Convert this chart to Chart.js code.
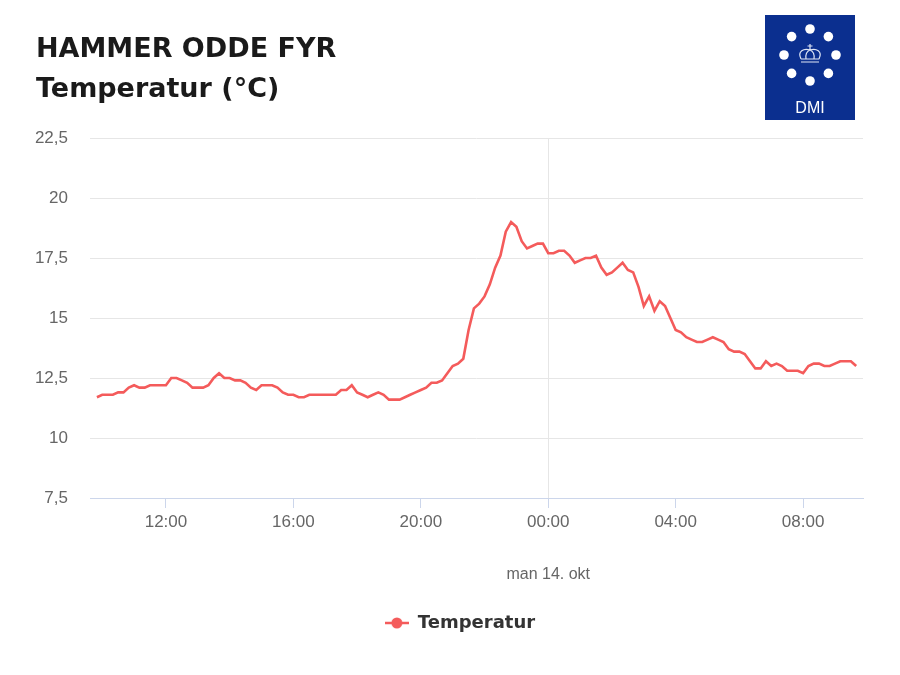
<!DOCTYPE html>
<html lang="da">
<head>
<meta charset="utf-8">
<title>Hammer Odde Fyr - Temperatur</title>
<script src="https://cdn.jsdelivr.net/npm/chart.js@4.4.1/dist/chart.umd.min.js"></script>
<style>
  html, body { margin: 0; padding: 0; background: #ffffff; }
  #wrap { width: 900px; height: 675px; }
</style>
</head>
<body>
<div id="wrap"><canvas id="chart" width="900" height="675"></canvas></div>
<script>
/* ── Data ─────────────────────────────────────────────────── */
const stationName = 'HAMMER ODDE FYR';
const chartTitle = 'Temperatur (°C)';
const seriesName = 'Temperatur';
const dateLabel = 'man 14. okt';

// 10-minute observations, first at 09:50, last at 09:40 next day
const startHour = 9 + 50 / 60;
const stepHours = 10 / 60;
const temps = [
  11.7, 11.8, 11.8, 11.8, 11.9, 11.9, 12.1, 12.2, 12.1, 12.1,
  12.2, 12.2, 12.2, 12.2, 12.5, 12.5, 12.4, 12.3, 12.1, 12.1,
  12.1, 12.2, 12.5, 12.7, 12.5, 12.5, 12.4, 12.4, 12.3, 12.1,
  12.0, 12.2, 12.2, 12.2, 12.1, 11.9, 11.8, 11.8, 11.7, 11.7,
  11.8, 11.8, 11.8, 11.8, 11.8, 11.8, 12.0, 12.0, 12.2, 11.9,
  11.8, 11.7, 11.8, 11.9, 11.8, 11.6, 11.6, 11.6, 11.7, 11.8,
  11.9, 12.0, 12.1, 12.3, 12.3, 12.4, 12.7, 13.0, 13.1, 13.3,
  14.5, 15.4, 15.6, 15.9, 16.4, 17.1, 17.6, 18.6, 19.0, 18.8,
  18.2, 17.9, 18.0, 18.1, 18.1, 17.7, 17.7, 17.8, 17.8, 17.6,
  17.3, 17.4, 17.5, 17.5, 17.6, 17.1, 16.8, 16.9, 17.1, 17.3,
  17.0, 16.9, 16.3, 15.5, 15.9, 15.3, 15.7, 15.5, 15.0, 14.5,
  14.4, 14.2, 14.1, 14.0, 14.0, 14.1, 14.2, 14.1, 14.0, 13.7,
  13.6, 13.6, 13.5, 13.2, 12.9, 12.9, 13.2, 13.0, 13.1, 13.0,
  12.8, 12.8, 12.8, 12.7, 13.0, 13.1, 13.1, 13.0, 13.0, 13.1,
  13.2, 13.2, 13.2, 13.0
];

// hours since midnight of the first day
const tickHours = [12, 16, 20, 24, 28, 32];
const dayBreakHour = 24;
const xMin = 9.616, xMax = 33.88;
const yMin = 7.5, yMax = 22.5, yStep = 2.5;

/* ── Styles ───────────────────────────────────────────────── */
const RED = '#f45b5b';
const GRID = '#e6e6e6';
const AXIS = '#ccd6eb';
const TEXT = '#666666';
const DMI_BLUE = '#0b2f8f';
const TICK_FONT = { family: "'Liberation Sans', Arial, sans-serif", size: 17 };

/* legend marker: line with a dot */
const legendMarker = document.createElement('canvas');
legendMarker.width = 24; legendMarker.height = 12;
(function () {
  const c = legendMarker.getContext('2d');
  c.strokeStyle = RED; c.lineWidth = 2.5;
  c.beginPath(); c.moveTo(0, 6); c.lineTo(24, 6); c.stroke();
  c.fillStyle = RED;
  c.beginPath(); c.arc(12, 6, 5.5, 0, Math.PI * 2); c.fill();
})();

/* header: title lines + DMI logo */
const headerPlugin = {
  id: 'header',
  afterDraw(chart) {
    const ctx = chart.ctx;
    ctx.save();
    ctx.fillStyle = '#1a1a1a';
    ctx.font = "bold 27px 'DejaVu Sans', Verdana, sans-serif";
    ctx.textAlign = 'left';
    ctx.textBaseline = 'alphabetic';
    ctx.fillText(stationName, 36, 57);
    ctx.fillText(chartTitle, 36, 97);

    // logo
    const lx = 765, ly = 15, lw = 90, lh = 105;
    ctx.fillStyle = DMI_BLUE;
    ctx.fillRect(lx, ly, lw, lh);
    const cx = lx + lw / 2, cy = ly + 40, r = 26;
    ctx.fillStyle = '#ffffff';
    for (let k = 0; k < 8; k++) {
      const a = -Math.PI / 2 + k * Math.PI / 4;
      ctx.beginPath();
      ctx.arc(cx + r * Math.cos(a), cy + r * Math.sin(a), 4.8, 0, Math.PI * 2);
      ctx.fill();
    }
    // crown
    ctx.strokeStyle = '#dfe6f5'; ctx.lineWidth = 1.2;
    ctx.beginPath();
    ctx.moveTo(cx - 9, cy + 7); ctx.lineTo(cx + 9, cy + 7);
    ctx.moveTo(cx - 9, cy + 4); ctx.lineTo(cx + 9, cy + 4);
    ctx.moveTo(cx - 9, cy + 4);
    ctx.bezierCurveTo(cx - 13, cy - 4, cx - 6, cy - 7, cx, cy - 5);
    ctx.bezierCurveTo(cx + 6, cy - 7, cx + 13, cy - 4, cx + 9, cy + 4);
    ctx.moveTo(cx - 4, cy + 4); ctx.quadraticCurveTo(cx - 5, cy - 3, cx, cy - 5);
    ctx.moveTo(cx + 4, cy + 4); ctx.quadraticCurveTo(cx + 5, cy - 3, cx, cy - 5);
    ctx.moveTo(cx, cy - 5); ctx.lineTo(cx, cy - 11);
    ctx.moveTo(cx - 2.5, cy - 9); ctx.lineTo(cx + 2.5, cy - 9);
    ctx.stroke();
    ctx.fillStyle = '#ffffff';
    ctx.font = "16px 'Liberation Sans', Arial, sans-serif";
    ctx.textAlign = 'center';
    ctx.fillText('DMI', cx, ly + 98);
    ctx.restore();
  }
};

/* date under the day break */
const dateLabelPlugin = {
  id: 'dateLabel',
  afterDraw(chart) {
    const ctx = chart.ctx;
    const x = chart.scales.x.getPixelForValue(dayBreakHour);
    ctx.save();
    ctx.fillStyle = TEXT;
    ctx.font = "16px 'Liberation Sans', Arial, sans-serif";
    ctx.textAlign = 'center';
    ctx.textBaseline = 'middle';
    ctx.fillText(dateLabel, x, 575);
    ctx.restore();
  }
};

const points = temps.map((t, i) => ({ x: startHour + i * stepHours, y: t }));

new Chart(document.getElementById('chart'), {
  type: 'line',
  data: {
    datasets: [{
      label: seriesName,
      data: points,
      borderColor: RED,
      backgroundColor: RED,
      borderWidth: 2.6,
      pointRadius: 0,
      tension: 0,
      pointStyle: legendMarker
    }]
  },
  options: {
    responsive: false,
    animation: false,
    layout: { padding: { top: 138, right: 0, bottom: 33, left: 20 } },
    plugins: {
      tooltip: { enabled: false },
      legend: {
        position: 'bottom',
        labels: {
          usePointStyle: true,
          pointStyleWidth: 24,
          color: '#333333',
          font: { family: "'DejaVu Sans', Verdana, sans-serif", size: 18, weight: 'bold' },
          padding: 10
        }
      }
    },
    scales: {
      x: {
        type: 'linear',
        min: xMin, max: xMax,
        afterBuildTicks: s => { s.ticks = tickHours.map(v => ({ value: v })); },
        afterFit: s => { s.height = 106; },
        ticks: {
          color: TEXT, font: TICK_FONT, padding: 4, maxRotation: 0,
          callback: v => String(v % 24).padStart(2, '0') + ':00'
        },
        grid: {
          color: c => (c.tick && c.tick.value === dayBreakHour ? GRID : 'rgba(0,0,0,0)'),
          tickColor: AXIS,
          tickLength: 10,
          lineWidth: 1
        },
        border: { color: AXIS, width: 1 }
      },
      y: {
        min: yMin, max: yMax,
        afterFit: s => { s.width = 70; },
        ticks: {
          stepSize: yStep, color: TEXT, font: TICK_FONT, padding: 22,
          callback: v => String(v).replace('.', ',')
        },
        grid: { color: GRID, drawTicks: false },
        border: { display: false }
      },
      // empty right-hand margin so the plot ends where the reference does
      yRight: {
        position: 'right',
        afterFit: s => { s.width = 37; },
        ticks: { display: false },
        grid: { display: false },
        border: { display: false }
      }
    }
  },
  plugins: [headerPlugin, dateLabelPlugin]
});
</script>
</body>
</html>
